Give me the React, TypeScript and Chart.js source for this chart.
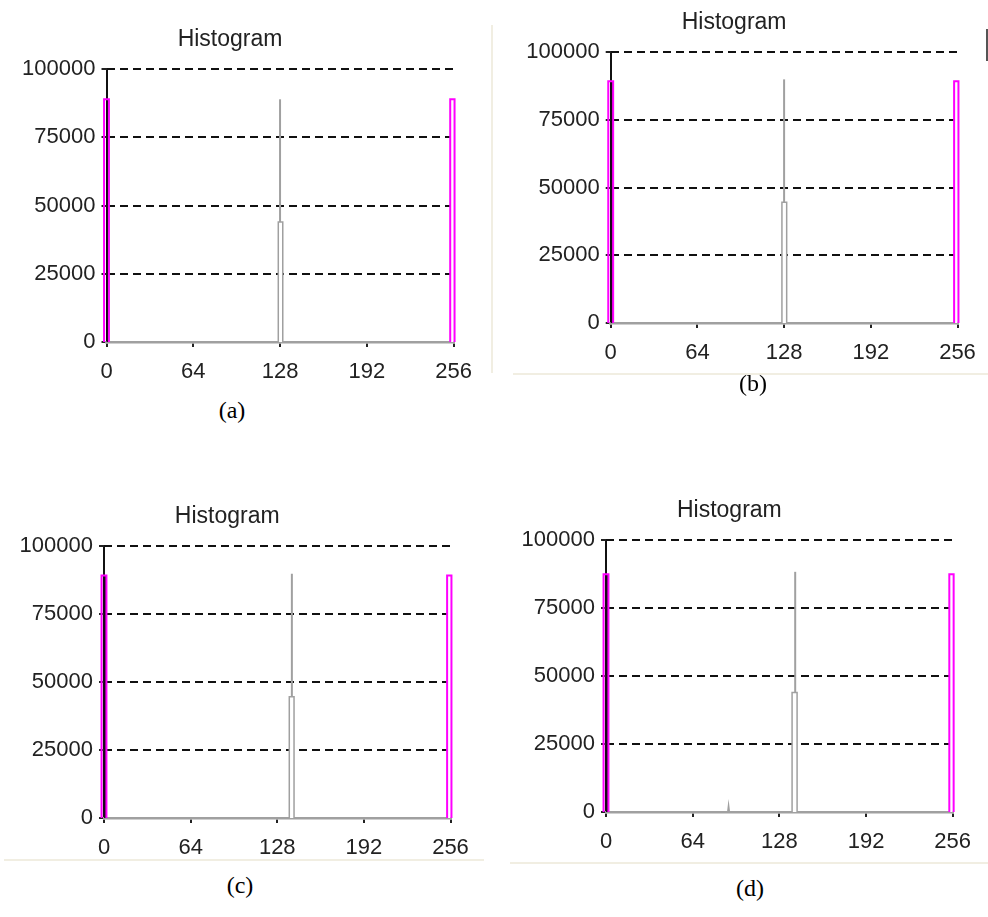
import React, { useEffect, useRef } from 'react';
import { Chart, registerables } from 'chart.js';

Chart.register(...registerables);

// ---------- data ----------
const PANEL_LABELS = ['(a)', '(b)', '(c)', '(d)'];
const TITLE = 'Histogram';
const X_TICKS = [0, 64, 128, 192, 256];
const Y_TICKS = [0, 25000, 50000, 75000, 100000];

// dark (filled) bin at the low end
const DARK_BIN_START = [-1.8, -1.8, -1.8, -1.8];
const DARK_BIN_END = [1.8, 1.8, 1.8, 1.8];
const DARK_BIN_COUNT = [88900, 89200, 89200, 87400];

// mid grey outlined bin
const MID_BIN_START = [126.7, 126.4, 136.9, 137.4];
const MID_BIN_END = [130.0, 129.9, 140.4, 141.1];
const MID_BIN_COUNT = [44000, 44600, 44600, 43900];

// tall thin grey spike
const SPIKE_X = [128, 128, 138.8, 139.7];
const SPIKE_COUNT = [88900, 89900, 89800, 88300];

// light (outlined) bin at the high end
const LIGHT_BIN_START = [253.5, 253.5, 253.5, 253.5];
const LIGHT_BIN_END = [256.7, 256.7, 256.7, 256.7];
const LIGHT_BIN_COUNT = [88900, 89200, 89200, 87400];

// tiny blip (only panel d)
const BLIP_X = [null, null, null, 90.5];
const BLIP_COUNT = [0, 0, 0, 2500];

// ---------- layout / style ----------
const LAYOUT = [
  { left: 0, top: 20, width: 490, height: 372, pl: 6.5, pr: 36.4, cx: 232, cy: 410 },
  { left: 500, top: 3, width: 488, height: 370, pl: 10.7, pr: 30.5, cx: 753, cy: 383 },
  { left: 0, top: 497, width: 486, height: 371, pl: 4, pr: 35.5, cx: 240, cy: 885 },
  { left: 500, top: 491, width: 488, height: 371, pl: 6, pr: 35.3, cx: 750, cy: 888 },
];

const FONT = "'Liberation Sans', Arial, sans-serif";
const MAGENTA = '#ff00ff';
const GREY = '#a0a0a0';
const INK = '#222222';

const rect = (x0: number, x1: number, h: number) => [
  { x: x0, y: 0 },
  { x: x0, y: h },
  { x: x1, y: h },
  { x: x1, y: 0 },
];

const fixRange = (values: number[]) => ({
  afterDataLimits: (s: any) => {
    s.min = values[0];
    s.max = values[values.length - 1];
  },
  afterBuildTicks: (s: any) => {
    s.ticks = values.map((v) => ({ value: v }));
    s.min = values[0];
    s.max = values[values.length - 1];
  },
});

function buildConfig(i: number): any {
  const L = LAYOUT[i];
  const datasets: any[] = [
    {
      data: rect(MID_BIN_START[i], MID_BIN_END[i], MID_BIN_COUNT[i]),
      borderColor: GREY,
      borderWidth: 1.5,
      backgroundColor: '#ffffff',
      fill: 'origin',
    },
    {
      data: [
        { x: SPIKE_X[i], y: 0 },
        { x: SPIKE_X[i], y: SPIKE_COUNT[i] },
      ],
      borderColor: GREY,
      borderWidth: 2,
      fill: false,
    },
    {
      data: rect(DARK_BIN_START[i], DARK_BIN_END[i], DARK_BIN_COUNT[i]),
      borderColor: MAGENTA,
      borderWidth: 2,
      backgroundColor: '#1a041a',
      fill: 'origin',
    },
    {
      data: rect(LIGHT_BIN_START[i], LIGHT_BIN_END[i], LIGHT_BIN_COUNT[i]),
      borderColor: MAGENTA,
      borderWidth: 2,
      backgroundColor: '#ffffff',
      fill: 'origin',
    },
  ];
  if (BLIP_X[i] !== null) {
    const bx = BLIP_X[i] as number;
    datasets.push({
      data: [
        { x: bx - 0.6, y: 0 },
        { x: bx, y: BLIP_COUNT[i] },
        { x: bx + 0.6, y: 0 },
      ],
      borderColor: GREY,
      borderWidth: 1.5,
      fill: false,
    });
  }
  datasets.forEach((d) => {
    d.pointRadius = 0;
    d.tension = 0;
    d.clip = false;
  });

  return {
    type: 'line',
    data: { datasets },
    options: {
      animation: false,
      responsive: false,
      maintainAspectRatio: false,
      events: [],
      layout: { padding: { left: L.pl, right: L.pr, top: 0, bottom: 0 } },
      plugins: {
        legend: { display: false },
        tooltip: { enabled: false },
        title: {
          display: true,
          text: TITLE,
          color: INK,
          font: { family: FONT, size: 23, weight: 'normal' },
          padding: { top: 6, bottom: 15.4 },
        },
      },
      scales: {
        x: {
          type: 'linear',
          bounds: 'data',
          ...fixRange(X_TICKS),
          afterFit: (s: any) => {
            s.height = 50;
          },
          ticks: {
            color: INK,
            font: { family: FONT, size: 22 },
            padding: 12,
            maxRotation: 0,
            autoSkip: false,
            callback: (v: any) => String(v),
          },
          grid: {
            drawOnChartArea: true,
            color: (ctx: any) => (ctx.tick && ctx.tick.value === 0 ? '#111111' : 'rgba(0,0,0,0)'),
            lineWidth: 2,
            drawTicks: true,
            tickLength: 5,
            tickColor: INK,
            tickWidth: 2,
          },
          border: { display: true, color: GREY, width: 2.5, dash: [] },
        },
        y: {
          type: 'linear',
          bounds: 'data',
          ...fixRange(Y_TICKS),
          afterFit: (s: any) => {
            s.width = 100;
          },
          ticks: {
            color: INK,
            font: { family: FONT, size: 22 },
            padding: 6,
            callback: (v: any) => String(v),
          },
          grid: {
            drawOnChartArea: true,
            color: (ctx: any) => (ctx.tick && ctx.tick.value === 0 ? 'rgba(0,0,0,0)' : '#111111'),
            lineWidth: 2,
            drawTicks: true,
            tickLength: 5,
            tickColor: INK,
            tickWidth: 2,
          },
          border: { display: false, dash: [8, 5] },
        },
      },
    },
  };
}

function Panel({ index }: { index: number }) {
  const ref = useRef<HTMLCanvasElement | null>(null);
  const L = LAYOUT[index];
  useEffect(() => {
    if (!ref.current) return;
    const chart = new Chart(ref.current, buildConfig(index));
    return () => chart.destroy();
  }, [index]);
  return (
    <>
      <canvas
        ref={ref}
        width={L.width}
        height={L.height}
        style={{ position: 'absolute', left: L.left, top: L.top, width: L.width, height: L.height }}
      />
      <div
        style={{
          position: 'absolute',
          left: L.cx,
          top: L.cy,
          transform: 'translate(-50%, -50%)',
          fontFamily: "'Liberation Serif', 'Times New Roman', serif",
          fontSize: 24,
          color: '#000',
          whiteSpace: 'nowrap',
        }}
      >
        {PANEL_LABELS[index]}
      </div>
    </>
  );
}

export default function App() {
  const line = '#f1eee2';
  return (
    <div style={{ position: 'absolute', left: 0, top: 0, width: 988, height: 917, background: '#fff', overflow: 'hidden' }}>
      {/* decorative frame remnants from the original screenshots */}
      <div style={{ position: 'absolute', left: 491, top: 25, width: 2, height: 348, background: line }} />
      <div style={{ position: 'absolute', left: 513, top: 373, width: 475, height: 2, background: line }} />
      <div style={{ position: 'absolute', left: 986, top: 29, width: 2, height: 32, background: '#555' }} />
      <div style={{ position: 'absolute', left: 4, top: 859, width: 480, height: 2, background: line }} />
      <div style={{ position: 'absolute', left: 510, top: 862, width: 478, height: 2, background: line }} />
      {[0, 1, 2, 3].map((i) => (
        <Panel key={i} index={i} />
      ))}
    </div>
  );
}
